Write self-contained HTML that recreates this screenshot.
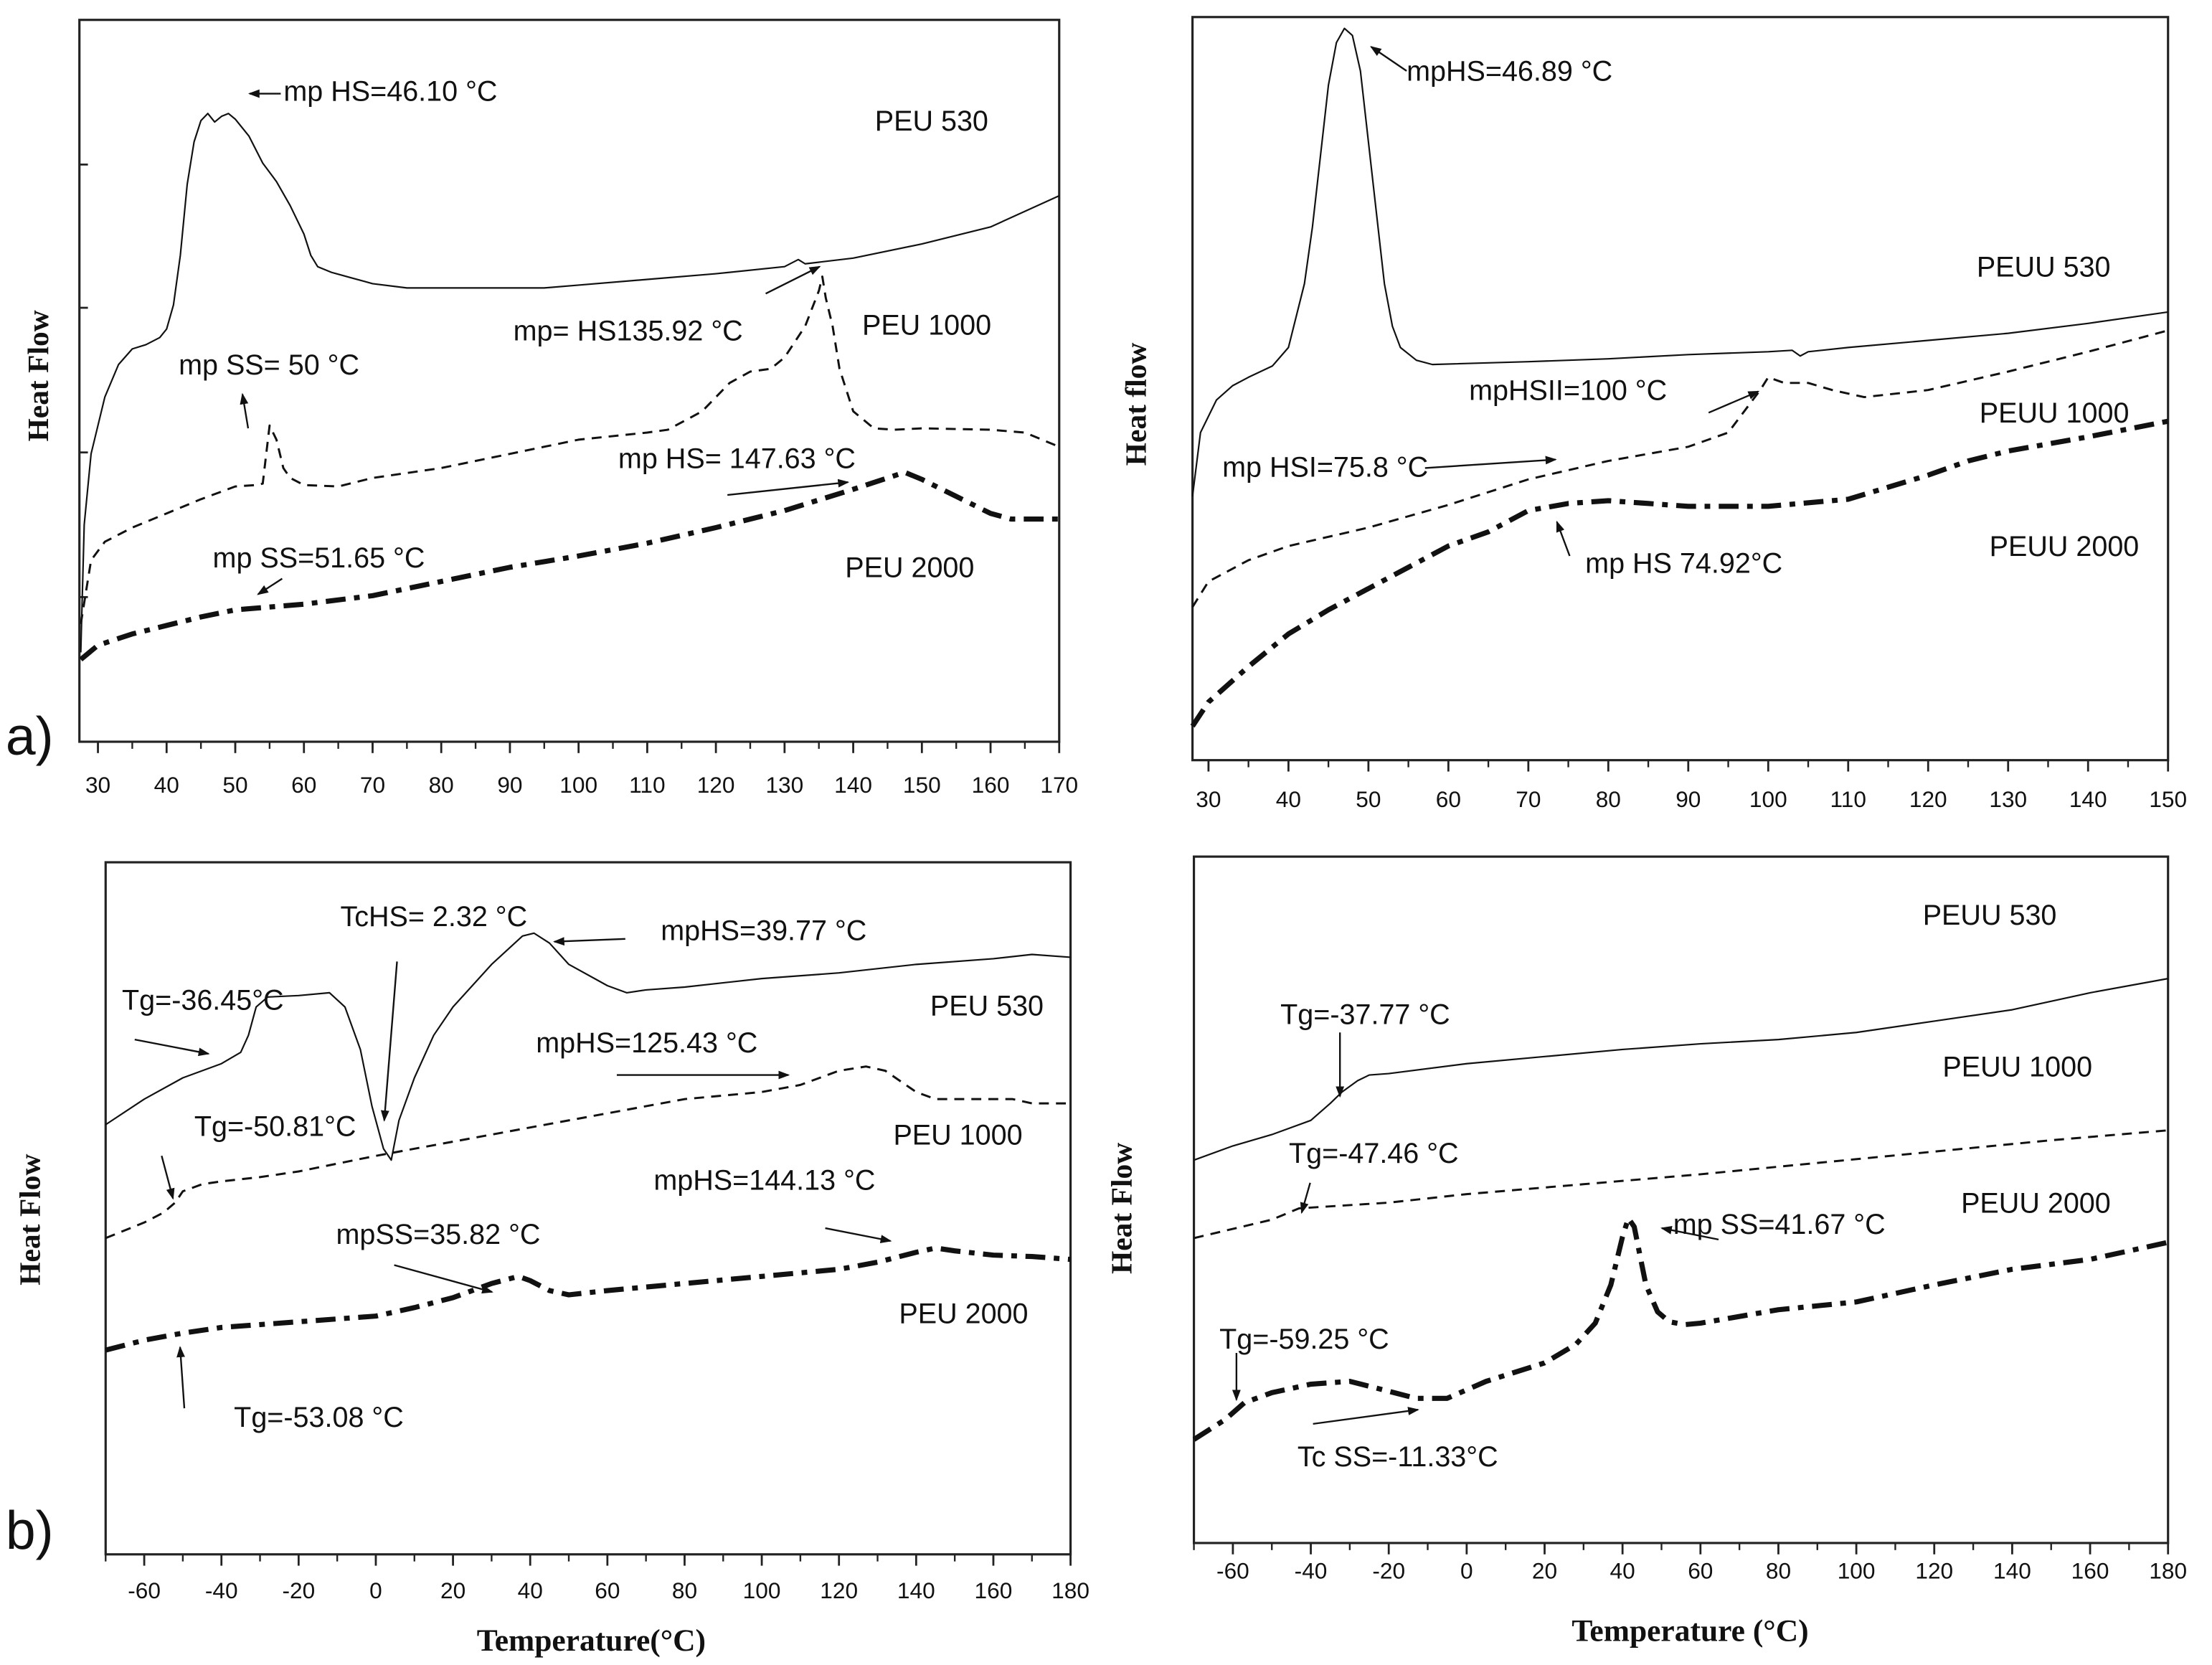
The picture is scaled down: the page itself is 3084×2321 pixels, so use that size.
<!DOCTYPE html>
<html>
<head>
<meta charset="utf-8">
<style>
html,body{margin:0;padding:0;background:#fff;}
svg{display:block;}
text{font-family:"Liberation Sans",sans-serif;fill:#111;}
.ttl{font-family:"Liberation Serif",serif;font-weight:bold;}
</style>
</head>
<body>
<svg id="fig" width="3084" height="2321" viewBox="0 0 1560 1174" xmlns="http://www.w3.org/2000/svg">
<defs>
<marker id="ah" markerWidth="8" markerHeight="8" refX="7" refY="4" orient="auto" markerUnits="userSpaceOnUse">
<path d="M0,1 L8,4 L0,7 Z" fill="#111"/>
</marker>
</defs>
</svg>
<script>
// ---- Panel a-left data (temperature °C, heat flow arb. units) ----
const aL_530_T = [27.5,28,29,31,33,35,37,39,40,41,42,43,44,45,46,47,48,49,50,52,54,56,58,60,61,62,64,67,70,75,80,90,95,100,110,120,130,132,133,140,150,160,170];
const aL_530_V = [63,153,203,243,266,277,280,285,291,308,343,393,423,438,443,437,441,443,439,427,408,395,378,358,343,335,331,327,323,320,320,320,320,322,326,330,335,340,337,341,351,363,385];
const aL_1000_T = [27.5,29,31,35,40,45,50,53,54,55,56,57,58,60,65,70,80,90,100,110,113,118,122,125,128,130,133,135,135.5,136,137,138,140,143,146,150,160,165,170];
const aL_1000_V = [83,128,141,151,161,171,180,181,182,223,213,193,186,181,180,186,193,203,213,218,220,233,253,261,263,271,293,318,328,313,293,263,233,221,220,221,220,218,208];
const aL_2000_T = [27.5,30,35,40,45,50,55,60,70,80,90,100,110,120,130,140,145,147.5,150,155,160,163,170];
const aL_2000_V = [58,68,76,82,88,93,95,97,103,113,123,131,140,151,163,178,186,190,185,173,161,157,157];
const aL_ticks = [30,40,50,60,70,80,90,100,110,120,130,140,150,160,170];

// ---- Panel a-right ----
const aR_530_T = [28,29,31,33,35,38,40,42,43,44,45,46,47,48,49,50,51,52,53,54,56,58,70,80,90,100,103,104,105,110,120,130,140,150];
const aR_530_V = [190,235,258,268,274,282,295,340,380,430,480,510,520,515,490,440,390,340,310,295,286,283,285,287,290,292,293,289,292,295,300,305,312,320];
const aR_1000_T = [28,30,35,40,50,60,70,80,90,95,97,99,100,102,105,108,112,120,130,140,150];
const aR_1000_V = [112,130,145,155,168,184,202,215,225,235,250,265,274,270,270,265,260,265,278,292,307];
const aR_2000_T = [28,30,35,40,45,50,55,60,65,70,75,80,85,90,100,110,120,125,130,140,150];
const aR_2000_V = [28,45,70,93,110,125,140,155,165,180,185,187,185,183,183,188,205,215,222,232,243];
const aR_ticks = [30,40,50,60,70,80,90,100,110,120,130,140,150];

// ---- Panel b-left ----
const bL_530_T = [-70,-60,-50,-40,-35,-33,-31,-28,-20,-12,-8,-4,-1,2,4,6,10,15,20,30,38,41,45,50,60,65,70,80,100,120,140,160,170,180];
const bL_530_V = [312,330,345,355,363,375,395,402,403,405,395,365,325,295,287,315,345,375,395,425,445,447,440,425,410,405,407,409,415,419,425,429,432,430];
const bL_1000_T = [-70,-60,-55,-52,-50,-45,-40,-30,-20,0,20,40,60,80,100,110,120,127,132,140,145,155,165,170,180];
const bL_1000_V = [232,243,250,257,265,270,272,275,279,290,300,310,320,330,335,340,350,353,350,335,330,330,330,327,327];
const bL_2000_T = [-70,-60,-50,-40,-20,0,10,20,30,37,40,45,50,60,80,100,120,130,140,145,150,160,170,180];
const bL_2000_V = [153,160,165,169,173,177,183,190,200,205,202,195,192,195,200,205,210,215,222,225,223,220,219,217];
const b_ticks = [-60,-40,-20,0,20,40,60,80,100,120,140,160,180];

// ---- Panel b-right ----
const bR_530_T = [-70,-60,-50,-40,-35,-32,-28,-25,-20,0,20,40,60,80,100,120,140,160,180];
const bR_530_V = [270,280,288,298,310,318,326,330,331,338,343,348,352,355,360,368,376,388,398];
const bR_1000_T = [-70,-50,-43,-20,0,30,60,90,120,150,180];
const bR_1000_V = [215,228,236,240,246,253,260,268,276,284,291];
const bR_2000_T = [-70,-62,-57,-50,-40,-30,-20,-13,-5,5,20,28,33,37,40,41.5,43,46,49,52,56,60,80,100,120,140,160,180];
const bR_2000_V = [73,87,99,106,112,114,107,102,102,114,127,140,155,182,216,229,223,182,163,156,154,155,164.5,170,182,193,200,212];

const NS = "http://www.w3.org/2000/svg";
const svg = document.getElementById('fig');

function mk(tag, attrs, parent){
  const e = document.createElementNS(NS, tag);
  for (const k in attrs) e.setAttribute(k, attrs[k]);
  (parent||svg).appendChild(e);
  return e;
}

function panel(cfg){
  const g = mk('g', {});
  
  
  const base = cfg.base !== undefined ? cfg.base : cfg.bottom;
  const xs = t => cfg.x0 + (t - cfg.t0) / (cfg.t1 - cfg.t0) * (cfg.x1 - cfg.x0);
  const ys = v => base - v;
  cfg.xs = xs; cfg.ys = ys; cfg.g = g;
  const fr = mk('rect', {x:cfg.x0, y:cfg.top, width:cfg.x1-cfg.x0, height:cfg.bottom-cfg.top, fill:'none', stroke:'#222', 'stroke-width':1.6}, g);
  
  
  for (let t = cfg.minorStart; t <= cfg.t1 + 0.001; t += cfg.minorStep){
    const x = xs(t);
    if (x < cfg.x0 - 0.5) continue;
    const tk = mk('line', {x1:x, y1:cfg.bottom, x2:x, y2:cfg.bottom+5, stroke:'#222', 'stroke-width':1.2}, g);
    
    
  }
  cfg.ticks.forEach(t => {
    const x = xs(t);
    const tk = mk('line', {x1:x, y1:cfg.bottom, x2:x, y2:cfg.bottom+8, stroke:'#222', 'stroke-width':1.4}, g);
    
    
    const lb = mk('text', {x:x, y:cfg.bottom+cfg.labOff, 'font-size':16, 'text-anchor':'middle'}, g);
    lb.textContent = t;
    
    
  });
  (cfg.yticks||[]).forEach(y => {
    const tk = mk('line', {x1:cfg.x0, y1:y, x2:cfg.x0+6, y2:y, stroke:'#222', 'stroke-width':1.4}, g);
    
    
  });
  const yt = mk('text', {x:cfg.ytx, y:cfg.yty, 'font-size':21, 'text-anchor':'middle', class:'ttl', transform:`rotate(-90 ${cfg.ytx} ${cfg.yty})`}, g);
  yt.textContent = cfg.ytitle;
  
  
  if (cfg.xtitle){
    const xt = mk('text', {x:cfg.xtx, y:cfg.xty, 'font-size':22, 'text-anchor':'middle', class:'ttl'}, g);
    xt.textContent = cfg.xtitle;
    
    
  }
  return cfg;
}

function series(p, T, V, style, name){
  const d = T.map((t,i) => (i ? 'L' : 'M') + p.xs(t).toFixed(2) + ',' + p.ys(V[i]).toFixed(2)).join(' ');
  const attrs = {d:d, fill:'none', stroke:'#111', 'stroke-linejoin':'round'};
  if (style === 'solid'){ attrs['stroke-width'] = 1.1; }
  if (style === 'dash'){ attrs['stroke-width'] = 1.5; attrs['stroke-dasharray'] = '7 5'; }
  if (style === 'dashdot'){ attrs['stroke-width'] = 3.6; attrs['stroke-dasharray'] = '14 6 4 6'; }
  const e = mk('path', attrs, p.g);
  
  
}

function label(p, x, y, txt, name, size){
  const e = mk('text', {x:x, y:y, 'font-size':size||20}, p.g);
  e.textContent = txt;
  
  
}
function arrow(p, x1, y1, x2, y2, name){
  const e = mk('line', {x1:x1, y1:y1, x2:x2, y2:y2, stroke:'#111', 'stroke-width':1.2, 'marker-end':'url(#ah)'}, p.g);
  
  
}

// Panel a-left
const pA = panel({name:'panel-a-left', x0:56, x1:747, t0:27.3, t1:170, top:14, bottom:523, ticks:aL_ticks, minorStart:30, minorStep:5, labOff:36, yticks:[116,217,319,421], ytitle:'Heat Flow', ytx:34, yty:265});
series(pA, aL_530_T, aL_530_V, 'solid', 'peu-530-curve');
series(pA, aL_1000_T, aL_1000_V, 'dash', 'peu-1000-curve');
series(pA, aL_2000_T, aL_2000_V, 'dashdot', 'peu-2000-curve');
label(pA, 200, 71, 'mp HS=46.10 °C', 'annotation-mp-hs-46');
arrow(pA, 198, 66, 176, 66, 'arrow-mp-hs-46');
label(pA, 617, 92, 'PEU 530', 'label-peu-530');
label(pA, 362, 240, 'mp= HS135.92 °C', 'annotation-mp-hs-135');
arrow(pA, 540, 207, 578, 188, 'arrow-mp-hs-135');
label(pA, 608, 236, 'PEU 1000', 'label-peu-1000');
label(pA, 126, 264, 'mp SS= 50 °C', 'annotation-mp-ss-50');
arrow(pA, 175, 302, 171, 278, 'arrow-mp-ss-50');
label(pA, 436, 330, 'mp HS= 147.63 °C', 'annotation-mp-hs-147');
arrow(pA, 513, 349, 598, 340, 'arrow-mp-hs-147');
label(pA, 150, 400, 'mp SS=51.65 °C', 'annotation-mp-ss-51');
arrow(pA, 199, 408, 182, 419, 'arrow-mp-ss-51');
label(pA, 596, 407, 'PEU 2000', 'label-peu-2000');
label(pA, 4, 532, 'a)', 'panel-label-a', 38);

// Panel a-right
const pB = panel({name:'panel-a-right', x0:841, x1:1529, t0:28, t1:150, top:12, bottom:536, base:540, ticks:aR_ticks, minorStart:30, minorStep:5, labOff:33, yticks:[], ytitle:'Heat flow', ytx:808, yty:285});
series(pB, aR_530_T, aR_530_V, 'solid', 'peuu-530-curve');
series(pB, aR_1000_T, aR_1000_V, 'dash', 'peuu-1000-curve');
series(pB, aR_2000_T, aR_2000_V, 'dashdot', 'peuu-2000-curve');
label(pB, 992, 57, 'mpHS=46.89 °C', 'annotation-mphs-46');
arrow(pB, 992, 50, 967, 33, 'arrow-mphs-46');
label(pB, 1394, 195, 'PEUU 530', 'label-peuu-530');
label(pB, 1036, 282, 'mpHSII=100 °C', 'annotation-mphsii-100');
arrow(pB, 1205, 291, 1240, 276, 'arrow-mphsii-100');
label(pB, 1396, 298, 'PEUU 1000', 'label-peuu-1000');
label(pB, 862, 336, 'mp HSI=75.8 °C', 'annotation-mphsi-75');
arrow(pB, 1005, 330, 1097, 324, 'arrow-mphsi-75');
label(pB, 1403, 392, 'PEUU 2000', 'label-peuu-2000');
label(pB, 1118, 404, 'mp HS 74.92°C', 'annotation-mphs-74');
arrow(pB, 1107, 392, 1098, 368, 'arrow-mphs-74');

// Panel b-left
const pC = panel({name:'panel-b-left', x0:74.5, x1:755, t0:-70, t1:180, top:608, bottom:1096, base:1105, ticks:b_ticks, minorStart:-70, minorStep:10, labOff:31, yticks:[], ytitle:'Heat Flow', ytx:28, yty:860, xtitle:'Temperature(°C)', xtx:417, xty:1164});
series(pC, bL_530_T, bL_530_V, 'solid', 'peu-530-cooling-curve');
series(pC, bL_1000_T, bL_1000_V, 'dash', 'peu-1000-cooling-curve');
series(pC, bL_2000_T, bL_2000_V, 'dashdot', 'peu-2000-cooling-curve');
label(pC, 240, 653, 'TcHS= 2.32 °C', 'annotation-tchs-2');
arrow(pC, 280, 678, 271, 790, 'arrow-tchs-2');
label(pC, 466, 663, 'mpHS=39.77 °C', 'annotation-mphs-39');
arrow(pC, 441, 662, 391, 664, 'arrow-mphs-39');
label(pC, 86, 712, 'Tg=-36.45°C', 'annotation-tg-36');
arrow(pC, 95, 733, 147, 743, 'arrow-tg-36');
label(pC, 656, 716, 'PEU 530', 'label-peu-530-b');
label(pC, 378, 742, 'mpHS=125.43 °C', 'annotation-mphs-125');
arrow(pC, 435, 758, 556, 758, 'arrow-mphs-125');
label(pC, 137, 801, 'Tg=-50.81°C', 'annotation-tg-50');
arrow(pC, 114, 815, 122, 845, 'arrow-tg-50');
label(pC, 630, 807, 'PEU 1000', 'label-peu-1000-b');
label(pC, 461, 839, 'mpHS=144.13 °C', 'annotation-mphs-144');
arrow(pC, 582, 866, 628, 875, 'arrow-mphs-144');
label(pC, 237, 877, 'mpSS=35.82 °C', 'annotation-mpss-35');
arrow(pC, 278, 892, 347, 911, 'arrow-mpss-35');
label(pC, 634, 933, 'PEU 2000', 'label-peu-2000-b');
label(pC, 165, 1006, 'Tg=-53.08 °C', 'annotation-tg-53');
arrow(pC, 130, 993, 127, 950, 'arrow-tg-53');
label(pC, 4, 1092, 'b)', 'panel-label-b', 38);

// Panel b-right
const pD = panel({name:'panel-b-right', x0:842, x1:1529, t0:-70, t1:180, top:604, bottom:1088, ticks:b_ticks, minorStart:-70, minorStep:10, labOff:25, yticks:[], ytitle:'Heat Flow', ytx:798, yty:852, xtitle:'Temperature (°C)', xtx:1192, xty:1157});
series(pD, bR_530_T, bR_530_V, 'solid', 'peuu-530-cooling-curve');
series(pD, bR_1000_T, bR_1000_V, 'dash', 'peuu-1000-cooling-curve');
series(pD, bR_2000_T, bR_2000_V, 'dashdot', 'peuu-2000-cooling-curve');
label(pD, 1356, 652, 'PEUU 530', 'label-peuu-530-b');
label(pD, 903, 722, 'Tg=-37.77 °C', 'annotation-tg-37');
arrow(pD, 945, 728, 945, 773, 'arrow-tg-37');
label(pD, 1370, 759, 'PEUU 1000', 'label-peuu-1000-b');
label(pD, 909, 820, 'Tg=-47.46 °C', 'annotation-tg-47');
arrow(pD, 924, 834, 918, 855, 'arrow-tg-47');
label(pD, 1383, 855, 'PEUU 2000', 'label-peuu-2000-b');
label(pD, 1180, 870, 'mp SS=41.67 °C', 'annotation-mpss-41');
arrow(pD, 1212, 874, 1172, 866, 'arrow-mpss-41');
label(pD, 860, 951, 'Tg=-59.25 °C', 'annotation-tg-59');
arrow(pD, 872, 954, 872, 987, 'arrow-tg-59');
label(pD, 915, 1034, 'Tc SS=-11.33°C', 'annotation-tcss-11');
arrow(pD, 926, 1004, 1000, 994, 'arrow-tcss-11');
</script>
</body>
</html>
